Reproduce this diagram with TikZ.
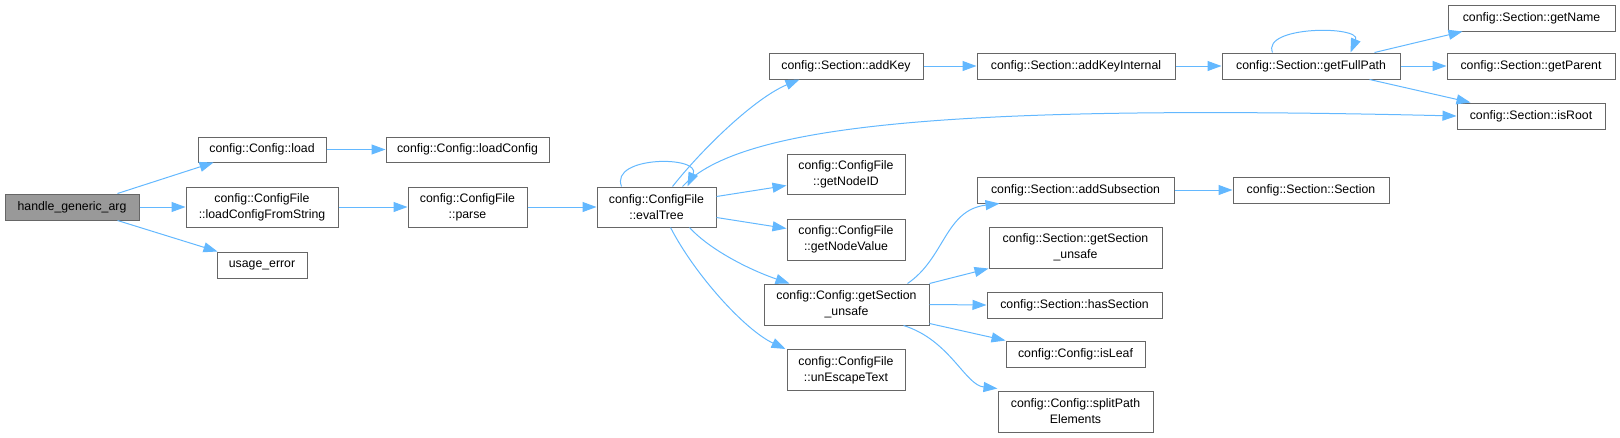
\documentclass[tikz,border=0pt]{standalone}
\usepackage{fontspec}
\setmainfont{Liberation Sans}
\usetikzlibrary{arrows.meta,calc}
\definecolor{edgeblue}{HTML}{63B8FF}
\definecolor{boxline}{HTML}{666666}
\definecolor{rootfill}{HTML}{999999}
\tikzset{
  fn/.style={draw=boxline, line width=1pt, fill=white, inner sep=0pt, align=center,
    font=\fontsize{12.3}{16}\selectfont},
  rootfn/.style={fn, fill=rootfill},
  call/.style={draw=edgeblue, line width=1pt, -{Triangle[length=14pt,width=10pt]}}
}
\newcommand{\fnbox}[6]{\node[#1, minimum width=#4pt, minimum height=#5pt] (#2) at (#3) {#6};}
\begin{document}
\begin{tikzpicture}[x=1pt,y=-1pt]
\useasboundingbox (0,0) rectangle (1620,437);
% nodes
\fnbox{rootfn}{hga}{72,207}{134}{26}{handle\_generic\_arg}
\fnbox{fn}{load}{262,149.5}{128}{25}{config::Config::load}
\fnbox{fn}{loadcfg}{467.5,149.5}{163}{25}{config::Config::loadConfig}
\fnbox{fn}{lcfs}{262,207}{152}{40}{config::ConfigFile\\::loadConfigFromString}
\fnbox{fn}{parse}{467.5,207}{119}{40}{config::ConfigFile\\::parse}
\fnbox{fn}{usage}{262,265}{90}{26}{usage\_error}
\fnbox{fn}{eval}{656.5,207}{119}{40}{config::ConfigFile\\::evalTree}
\fnbox{fn}{addkey}{846,66}{154}{26}{config::Section::addKey}
\fnbox{fn}{nodeid}{846,174}{118}{40}{config::ConfigFile\\::getNodeID}
\fnbox{fn}{nodeval}{846,239.5}{118}{41}{config::ConfigFile\\::getNodeValue}
\fnbox{fn}{cgsu}{846.5,304.5}{165}{41}{config::Config::getSection\\\_unsafe}
\fnbox{fn}{unesc}{846,370}{118}{41}{config::ConfigFile\\::unEscapeText}
\fnbox{fn}{aki}{1076,66}{198}{26}{config::Section::addKeyInternal}
\fnbox{fn}{addsub}{1075.5,190}{197}{26}{config::Section::addSubsection}
\fnbox{fn}{sgsu}{1075.5,247.5}{173}{41}{config::Section::getSection\\\_unsafe}
\fnbox{fn}{hassec}{1074.5,305}{175}{26}{config::Section::hasSection}
\fnbox{fn}{isleaf}{1075.5,354}{139}{26}{config::Config::isLeaf}
\fnbox{fn}{split}{1075.5,411.5}{155}{41}{config::Config::splitPath\\Elements}
\fnbox{fn}{fullpath}{1311,66}{178}{26}{config::Section::getFullPath}
\fnbox{fn}{sect}{1311,190}{156}{26}{config::Section::Section}
\fnbox{fn}{getname}{1531.5,18}{167}{26}{config::Section::getName}
\fnbox{fn}{getparent}{1531,66}{168}{26}{config::Section::getParent}
\fnbox{fn}{isroot}{1531,116}{148}{26}{config::Section::isRoot}
% edges
\draw[call] ($(hga.north west)+(113,0)$) -- ($(load.south west)+(16,0)$);
\draw[call] (hga.east) -- (lcfs.west);
\draw[call] ($(hga.south west)+(113,0)$) -- ($(usage.north west)+(1,0)$);
\draw[call] (load.east) -- (loadcfg.west);
\draw[call] (lcfs.east) -- (parse.west);
\draw[call] (parse.east) -- (eval.west);
\draw[call] ($(eval.north west)+(25,0)$) .. controls ($(eval.north west)+(13,-31)$) and ($(eval.north west)+(105,-31)$) .. ($(eval.north west)+(91,0)$);
\draw[call] ($(eval.north west)+(76,0)$) .. controls (703,148) and (755,98) .. ($(addkey.south west)+(31,0)$);
\draw[call] ($(eval.north west)+(86,0)$) .. controls (740,125) and (950,104) .. (isroot.west);
\draw[call] ($(eval.north east)+(0,10)$) -- ($(nodeid.south west)+(0,-9)$);
\draw[call] ($(eval.south east)+(0,-10)$) -- ($(nodeval.north west)+(0,10)$);
\draw[call] ($(eval.south west)+(93,0)$) .. controls (710,250) and (750,270) .. ($(cgsu.north west)+(26,0)$);
\draw[call] ($(eval.south west)+(74,0)$) .. controls (695,275) and (745,330) .. ($(unesc.north west)+(-1,0)$);
\draw[call] ($(cgsu.north west)+(144,0)$) .. controls (945,258) and (945,210) .. ($(addsub.south west)+(23,0)$);
\draw[call] (cgsu.north east) -- (sgsu.south west);
\draw[call] (cgsu.east) -- (hassec.west);
\draw[call] ($(cgsu.south east)+(0,-2)$) -- (isleaf.north west);
\draw[call] ($(cgsu.south west)+(140,0)$) .. controls (950,340) and (965,385) .. ($(split.north west)+(0,-2)$);
\draw[call] (addkey.east) -- (aki.west);
\draw[call] (aki.east) -- (fullpath.west);
\draw[call] (addsub.east) -- (sect.west);
\draw[call] ($(fullpath.north west)+(51,0)$) .. controls ($(fullpath.north west)+(40,-27)$) and ($(fullpath.north west)+(140,-27)$) .. ($(fullpath.north west)+(129,0)$);
\draw[call] ($(fullpath.north west)+(153,0)$) -- ($(getname.south west)+(15,0)$);
\draw[call] (fullpath.east) -- (getparent.west);
\draw[call] ($(fullpath.south west)+(148,0)$) -- ($(isroot.north west)+(14,0)$);
\end{tikzpicture}
\end{document}
